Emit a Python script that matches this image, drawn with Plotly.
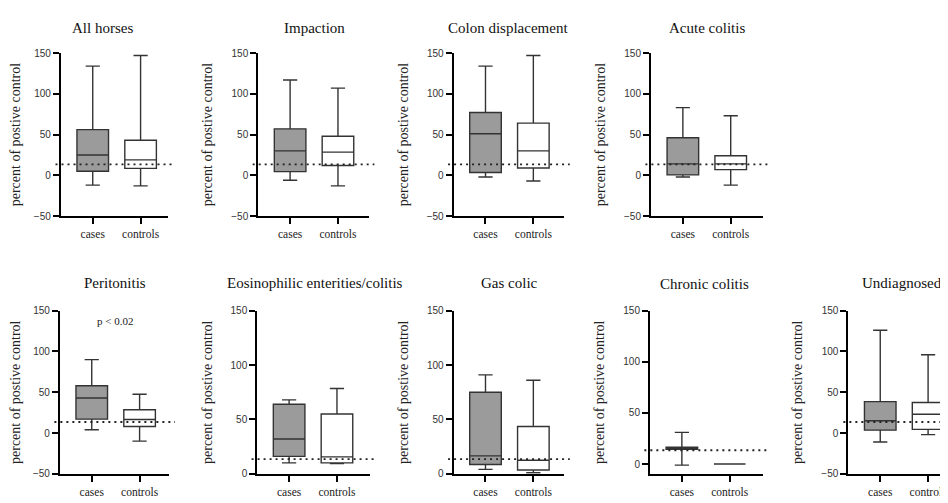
import plotly.graph_objects as go

# ---------------- data ----------------
panel_titles = ["All horses", "Impaction", "Colon displacement", "Acute colitis",
                "Peritonitis", "Eosinophilic enterities/colitis", "Gas colic",
                "Chronic colitis", "Undiagnosed"]
groups = ["cases", "controls"]

cases_min = [-12, -6, -2, -2, 4, 10, 4, -1, -11]
cases_q1 = [5, 4.5, 3.5, 0.5, 17, 16, 8.5, 14.5, 3.5]
cases_median = [25, 30, 51, 14, 43, 32, 16.5, 15.5, 15]
cases_q3 = [56, 57, 77, 46, 58, 64, 75, 16.5, 38.5]
cases_max = [134, 117, 134, 83, 90, 68, 91, 31, 126]

controls_min = [-13, -13, -7, -12, -10, 9.5, 1, 0, -2]
controls_q1 = [8.5, 12, 9, 7, 8, 10, 3.5, 0, 4.5]
controls_median = [19, 28.5, 30, 14, 16.5, 15.5, 12.5, 0, 23]
controls_q3 = [43, 48, 64, 24, 28.5, 55, 43.5, 0, 37.5]
controls_max = [147, 107, 147, 73, 47.5, 78.5, 86, 0, 96]

y_min = [-50, -50, -50, -50, -50, 0, 0, -9.5, -50]
y_max = 150
y_ticks = [-50, 0, 50, 100, 150]
cutoff = 13.5
y_title = "percent of postive control"
p_text = "p < 0.02"

# ---------------- layout geometry (screen pixels; page body has an 8px margin) ----------------
OFF = 8
W, H = 948, 503
x_left = [58, 256, 452, 650, 57, 255, 452, 649, 848]
x_right = [165, 367, 563, 762, 167, 368, 563, 762, 948]
y_top = [48, 48, 48, 48, 312, 312, 312, 312, 312]
y_bot = [215, 215, 215, 215, 479, 479, 479, 479, 479]
title_cx = [100, 312, 507, 706, 112, 313, 508, 704, 902]
title_cy = [22, 22, 22, 22, 284, 284, 284, 285, 284]


def px_x(v):
    return (v - OFF) / W


def px_y(v):
    return 1 - (v - OFF) / H


SERIF = "Liberation Serif, DejaVu Serif, serif"
SANS = "Liberation Sans, Arial, sans-serif"
LINE = "#333333"
AX = "black"

fig = go.Figure()
layout = dict(
    width=W, height=H,
    margin=dict(l=0, r=0, t=0, b=0),
    paper_bgcolor="white", plot_bgcolor="white",
    showlegend=False,
    annotations=[], shapes=[],
)

stats = {
    "cases": (cases_min, cases_q1, cases_median, cases_q3, cases_max, "#9b9b9b"),
    "controls": (controls_min, controls_q1, controls_median, controls_q3, controls_max, "#ffffff"),
}

for i in range(9):
    n = "" if i == 0 else str(i + 1)
    xa, ya = "x" + n, "y" + n
    for g in groups:
        mn, q1, md, q3, mx, fill = stats[g]
        fig.add_trace(go.Box(
            x=[g], q1=[q1[i]], median=[md[i]], q3=[q3[i]],
            lowerfence=[mn[i]], upperfence=[mx[i]],
            xaxis=xa, yaxis=ya, fillcolor=fill,
            line=dict(color=LINE, width=1.4),
            width=0.66, whiskerwidth=0.45, boxpoints=False,
            showlegend=False, name=g,
        ))
    pw = x_right[i] - x_left[i]
    layout["xaxis" + n] = dict(
        domain=[px_x(x_left[i]), px_x(x_right[i])], anchor=ya,
        type="category",
        range=[-32 / 48, (pw - 32) / 48],
        showline=True, linecolor=AX, linewidth=2,
        ticks="outside", ticklen=6, tickwidth=2, tickcolor=AX,
        tickfont=dict(family=SERIF, size=11.5, color="#222222"),
        showgrid=False, zeroline=False,
    )
    layout["yaxis" + n] = dict(
        domain=[px_y(y_bot[i]), px_y(y_top[i])], anchor=xa,
        range=[y_min[i], y_max],
        tickmode="array", tickvals=[t for t in y_ticks if t >= y_min[i]],
        showline=True, linecolor=AX, linewidth=2,
        ticks="outside", ticklen=6, tickwidth=2, tickcolor=AX,
        tickfont=dict(family=SANS, size=10, color="#333333"),
        title=dict(text=y_title, font=dict(family=SERIF, size=14, color="#222222")),
        showgrid=False, zeroline=False,
    )
    layout["shapes"].append(dict(
        type="line", xref=xa + " domain", yref=ya,
        x0=-0.05, x1=1.05, y0=cutoff, y1=cutoff,
        line=dict(color="#222222", width=1.8, dash="2px,4px"),
    ))
    layout["annotations"].append(dict(
        text=panel_titles[i], xref="paper", yref="paper",
        x=px_x(title_cx[i]), y=px_y(title_cy[i]),
        xanchor="center", yanchor="middle", showarrow=False,
        font=dict(family=SERIF, size=15, color="#111111"),
    ))

layout["annotations"].append(dict(
    text=p_text, xref="paper", yref="paper",
    x=px_x(112), y=px_y(322), xanchor="center", yanchor="middle",
    showarrow=False, font=dict(family=SERIF, size=11, color="#222222"),
))

fig.update_layout(**layout)
fig.write_html("out.html", config={"displayModeBar": False})
